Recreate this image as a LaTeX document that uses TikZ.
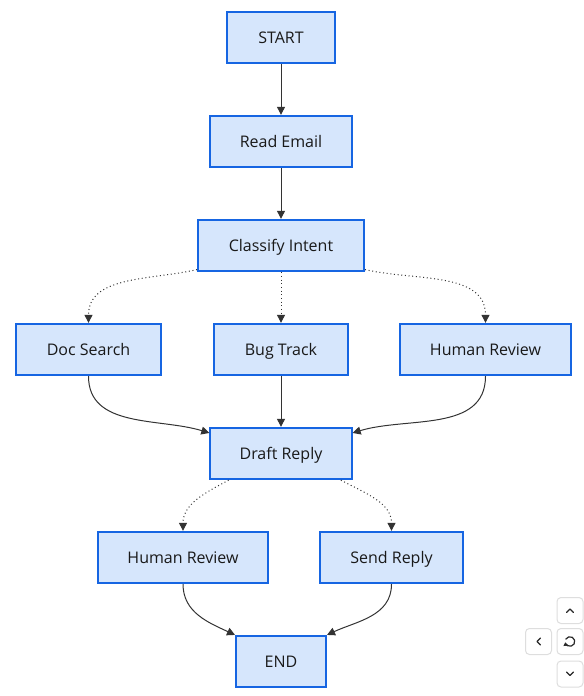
\documentclass[tikz,border=0pt]{standalone}
\usepackage{fontspec}
\setmainfont{Open Sans}
\usetikzlibrary{arrows.meta}
\definecolor{boxfill}{RGB}{214,230,252}
\definecolor{boxline}{RGB}{22,101,226}
\definecolor{edgegrey}{RGB}{51,51,51}
\definecolor{btnline}{RGB}{222,222,222}
\definecolor{btnicon}{RGB}{40,40,40}

\begin{document}
\begin{tikzpicture}[
  x=0.75pt, y=0.75pt,
  stepbox/.style={draw=boxline, fill=boxfill, line width=1.5pt,
    minimum height=38.5pt, inner sep=0pt, text=black!90,
    text height=10.2pt, text depth=1pt,
    font=\fontsize{12}{14}\selectfont},
  flow/.style={draw=edgegrey, line width=0.75pt,
    -{Triangle[length=6pt,width=6pt]}},
  maybe/.style={flow, dotted},
  btn/.style={draw=btnline, fill=white, rounded corners=3pt,
    line width=0.75pt, minimum size=19.5pt, inner sep=0pt},
  chev/.style={draw=btnicon, line width=0.9pt, line cap=round, line join=round}
  ]
  \useasboundingbox (0,0) rectangle (583,-696);

  % steps
  \node[stepbox, minimum width=81pt]  (start)     at (281,-37.5)  {START};
  \node[stepbox, minimum width=106pt] (read)      at (281,-141.5) {Read Email};
  \node[stepbox, minimum width=124.5pt] (classify) at (281,-245.5) {Classify Intent};
  \node[stepbox, minimum width=108.5pt] (docsearch) at (88.5,-349.5) {Doc Search};
  \node[stepbox, minimum width=100.5pt] (bugtrack)  at (281,-349.5) {Bug Track};
  \node[stepbox, minimum width=128pt] (review1)   at (485.5,-349.5) {Human Review};
  \node[stepbox, minimum width=106pt] (draft)     at (281,-453.5) {Draft Reply};
  \node[stepbox, minimum width=127.5pt] (review2) at (183,-557.5) {Human Review};
  \node[stepbox, minimum width=107pt] (send)      at (391.5,-557.5) {Send Reply};
  \node[stepbox, minimum width=67.5pt] (finish)   at (281,-661.5) {END};

  % connectors
  \draw[flow] (start) -- (read);
  \draw[flow] (read) -- (classify);
  \draw[maybe] (classify.196) to[out=193, in=90] (docsearch.north);
  \draw[maybe] (classify) -- (bugtrack);
  \draw[maybe] (classify.344) to[out=-13, in=90] (review1.north);
  \draw[flow] (docsearch.south) to[out=-90, in=163] (draft.164);
  \draw[flow] (bugtrack) -- (draft);
  \draw[flow] (review1.south) to[out=-90, in=17] (draft.16);
  \draw[maybe] (draft.207) to[out=208, in=90] (review2.north);
  \draw[maybe] (draft.336) to[out=-28, in=90] (send.north);
  \draw[flow] (review2.south) to[out=-90, in=155] (finish.150);
  \draw[flow] (send.south) to[out=-90, in=25] (finish.30);

  % view controls
  \node[btn] (upbtn)    at (570,-610.5) {};
  \node[btn] (leftbtn)  at (538.5,-641.5) {};
  \node[btn] (resetbtn) at (570,-641.5) {};
  \node[btn] (downbtn)  at (570,-674) {};
  \draw[chev] ([shift={(-3.5,-2)}]upbtn.center) -- ++(3.5,3.5) -- ++(3.5,-3.5);
  \draw[chev] ([shift={(-3.5,2)}]downbtn.center) -- ++(3.5,-3.5) -- ++(3.5,3.5);
  \draw[chev] ([shift={(2,3.5)}]leftbtn.center) -- ++(-3.5,-3.5) -- ++(3.5,-3.5);
  \draw[chev, -{Triangle[length=2.5pt,width=3.5pt]}]
    ([shift={(-4.2,2.4)}]resetbtn.center) arc[start angle=150, end angle=-170, radius=4.8];
\end{tikzpicture}
\end{document}
